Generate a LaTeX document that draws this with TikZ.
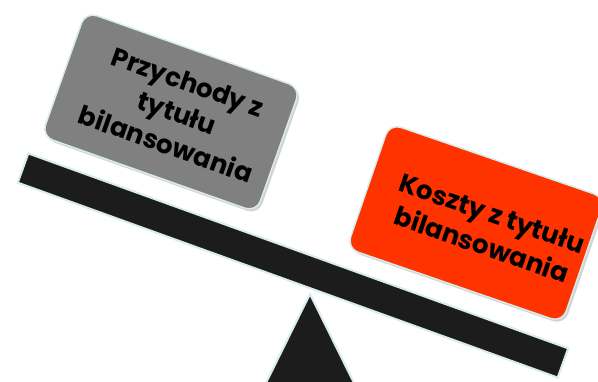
\documentclass[tikz,border=0pt]{standalone}
\usepackage{fontspec}
\usetikzlibrary{shadows}
\newfontfamily\boxfont{Poppins}
\definecolor{boxgray}{HTML}{808080}
\definecolor{boxred}{HTML}{FF3300}
\definecolor{beamblack}{HTML}{1C1C1C}
\definecolor{glow}{HTML}{D8ECEC}
\begin{document}
\begin{tikzpicture}[x=1pt,y=-1pt,
    card/.style={draw=glow, line width=1.5pt, rounded corners=12pt,
        minimum width=228pt, minimum height=132pt,
        drop shadow={shadow xshift=2pt, shadow yshift=-2.5pt, opacity=0.35}},
    cardtext/.style={align=center, font=\boxfont\bfseries\fontsize{26}{33}\selectfont},
    plank/.style={draw=glow, line width=2pt, fill=beamblack, inner sep=0pt}]
    \useasboundingbox[fill=white] (0,0) rectangle (598,381);

    % fulcrum
    \draw[glow, line width=2pt, fill=beamblack] (310,294) -- (354,383) -- (266,383) -- cycle;

    % beam
    \node[plank, minimum width=574pt, minimum height=31pt, rotate=-19.85]
        (beam) at (293,265.5) {};

    % the two pans
    \node[card, fill=boxgray, rotate=-19.5] (income) at (171,112) {};
    \node[cardtext, rotate=-19.5] (incometext) at (177,113) {Przychody z\\tytułu\\bilansowania};
    \node[card, fill=boxred, rotate=-19] (costs) at (476,223) {};
    \node[cardtext, rotate=-19] (coststext) at (487,229) {Koszty z tytułu\\bilansowania};
\end{tikzpicture}
\end{document}
